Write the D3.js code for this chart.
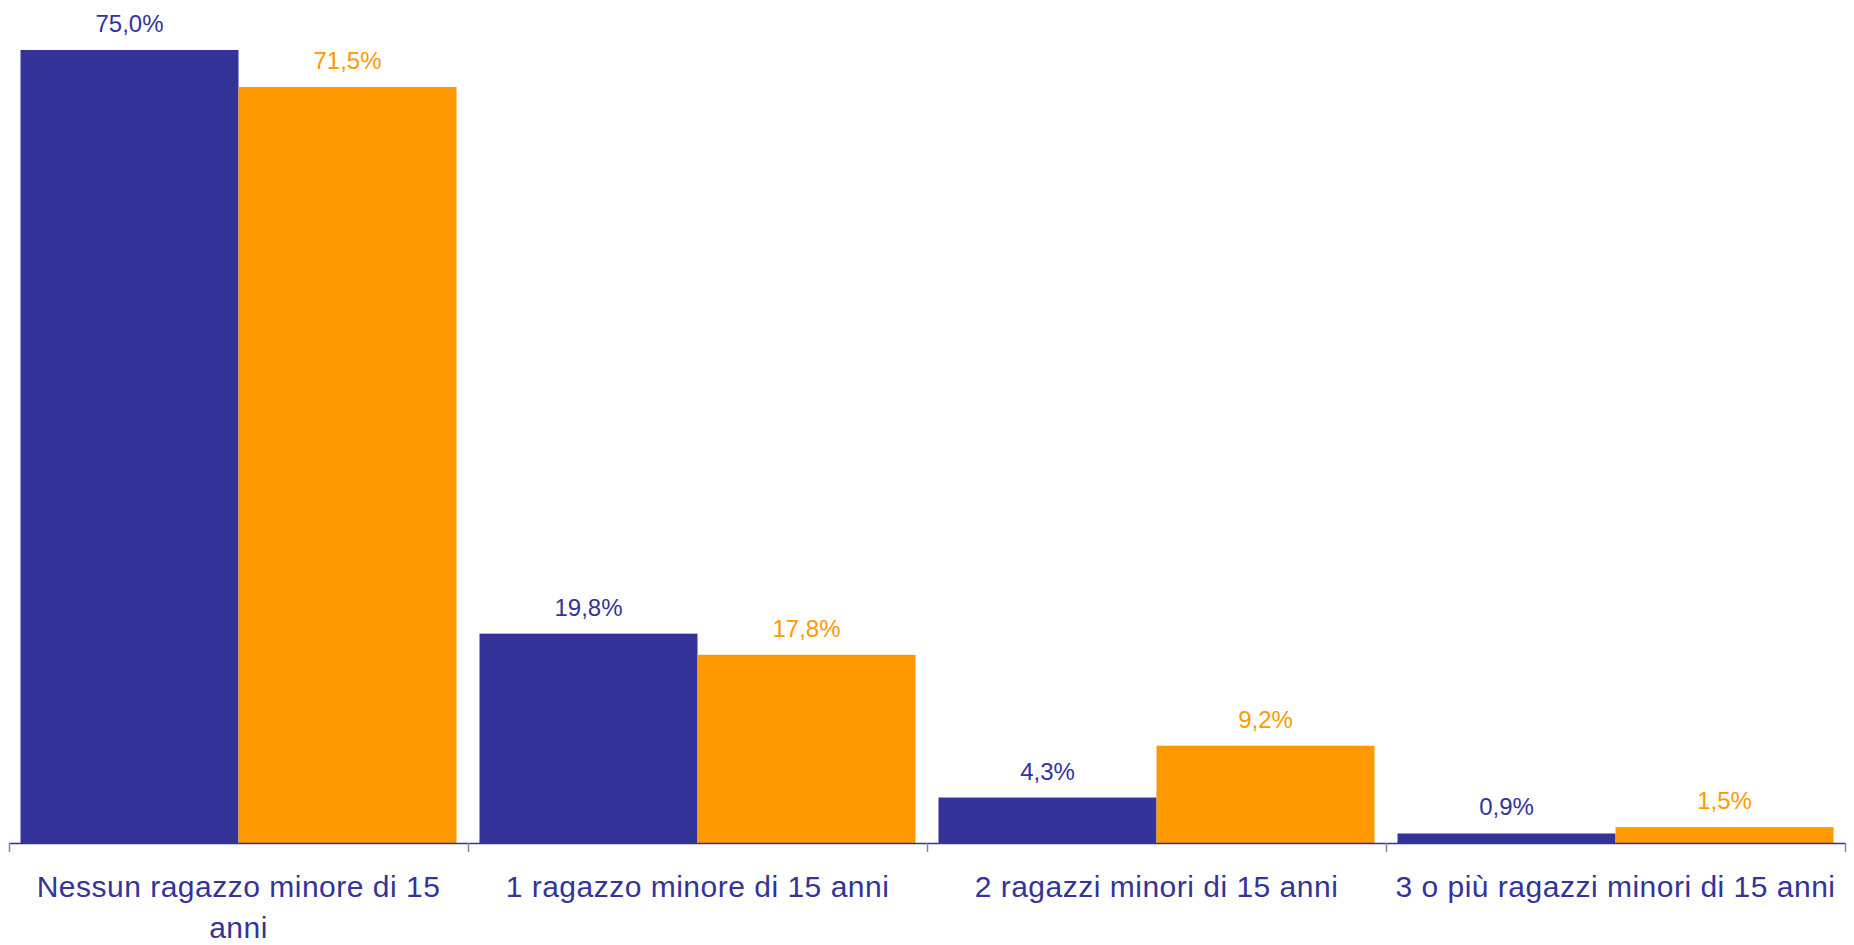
<!DOCTYPE html>
<html>
<head>
<meta charset="utf-8">
<script src="https://cdn.jsdelivr.net/npm/d3@7"></script>
<style>
  body { margin: 0; background: #fff; }
  text { font-family: "Liberation Sans", Arial, sans-serif; }
</style>
</head>
<body>
<div id="chart"></div>
<script>
// categories and series
const categories = [
  "Nessun ragazzo minore di 15 anni",
  "1 ragazzo minore di 15 anni",
  "2 ragazzi minori di 15 anni",
  "3 o più ragazzi minori di 15 anni"
];
const seriesNames = ["A", "B"];
const seriesA = [75.0, 19.8, 4.3, 0.9];
const seriesB = [71.5, 17.8, 9.2, 1.5];
const colors = ["#333399", "#FF9900"];

const width = 1854;
const height = 945;
const margin = { top: 0, right: 9, bottom: 102, left: 9 };
const baseY = height - margin.bottom;

const rows = categories.map((c, i) => ({ cat: c, values: [seriesA[i], seriesB[i]] }));

const svg = d3.select("#chart")
  .append("svg")
  .attr("width", width)
  .attr("height", height);

// scales
const x0 = d3.scaleBand()
  .domain(categories)
  .range([margin.left, width - margin.right])
  .paddingInner(0)
  .paddingOuter(0);

const x1 = d3.scaleBand()
  .domain(seriesNames)
  .range([11.5, x0.bandwidth() - 11.5]);

// 75% -> bar top at y=50
const y = d3.scaleLinear()
  .domain([0, 75])
  .range([baseY, 50]);

const fmt = v => d3.format(".1f")(v).replace(".", ",") + "%";

// bars
const groups = svg.selectAll("g.cat")
  .data(rows)
  .enter()
  .append("g")
  .attr("class", "cat")
  .attr("transform", d => `translate(${x0(d.cat)},0)`);

groups.selectAll("rect")
  .data(d => d.values.map((v, i) => ({ s: seriesNames[i], v: v, i: i })))
  .enter()
  .append("rect")
  .attr("x", d => x1(d.s))
  .attr("width", x1.bandwidth())
  .attr("y", d => y(d.v))
  .attr("height", d => baseY - y(d.v))
  .attr("fill", d => colors[d.i]);

// value labels
groups.selectAll("text.val")
  .data(d => d.values.map((v, i) => ({ s: seriesNames[i], v: v, i: i })))
  .enter()
  .append("text")
  .attr("class", "val")
  .attr("x", d => x1(d.s) + x1.bandwidth() / 2)
  .attr("y", d => y(d.v) - 18)
  .attr("text-anchor", "middle")
  .attr("font-size", 24)
  .attr("fill", d => colors[d.i])
  .text(d => fmt(d.v));

// axis
const axis = svg.append("g")
  .attr("transform", `translate(0,${baseY})`)
  .call(d3.axisBottom(x0).tickSize(0).tickFormat(""));
axis.select(".domain").attr("stroke", "#333399").attr("stroke-width", 1.5)
  .attr("d", `M${margin.left},0.5H${width - margin.right}`);

// tick marks between categories
const tickPos = categories.map(c => x0(c)).concat([x0.range()[1]]);
svg.selectAll("line.tick")
  .data(tickPos)
  .enter()
  .append("line")
  .attr("x1", d => d + 0.5)
  .attr("x2", d => d + 0.5)
  .attr("y1", baseY)
  .attr("y2", baseY + 9)
  .attr("stroke", "#8080c0")
  .attr("stroke-width", 1.5);

// category labels with wrapping
function wrap(textSel, w) {
  textSel.each(function() {
    const t = d3.select(this);
    const words = t.text().split(/\s+/);
    const xx = t.attr("x");
    t.text(null);
    let line = [];
    let tspan = t.append("tspan").attr("x", xx).attr("dy", 0);
    words.forEach(word => {
      line.push(word);
      tspan.text(line.join(" "));
      if (tspan.node().getComputedTextLength() > w && line.length > 1) {
        line.pop();
        tspan.text(line.join(" "));
        line = [word];
        tspan = t.append("tspan").attr("x", xx).attr("dy", 41).text(word);
      }
    });
  });
}

svg.selectAll("text.cat")
  .data(categories)
  .enter()
  .append("text")
  .attr("class", "cat")
  .attr("x", d => x0(d) + x0.bandwidth() / 2)
  .attr("y", 897)
  .attr("text-anchor", "middle")
  .attr("font-size", 30)
  .attr("letter-spacing", 0.5)
  .attr("fill", "#333399")
  .text(d => d)
  .call(wrap, x0.bandwidth() - 10);
</script>
</body>
</html>
